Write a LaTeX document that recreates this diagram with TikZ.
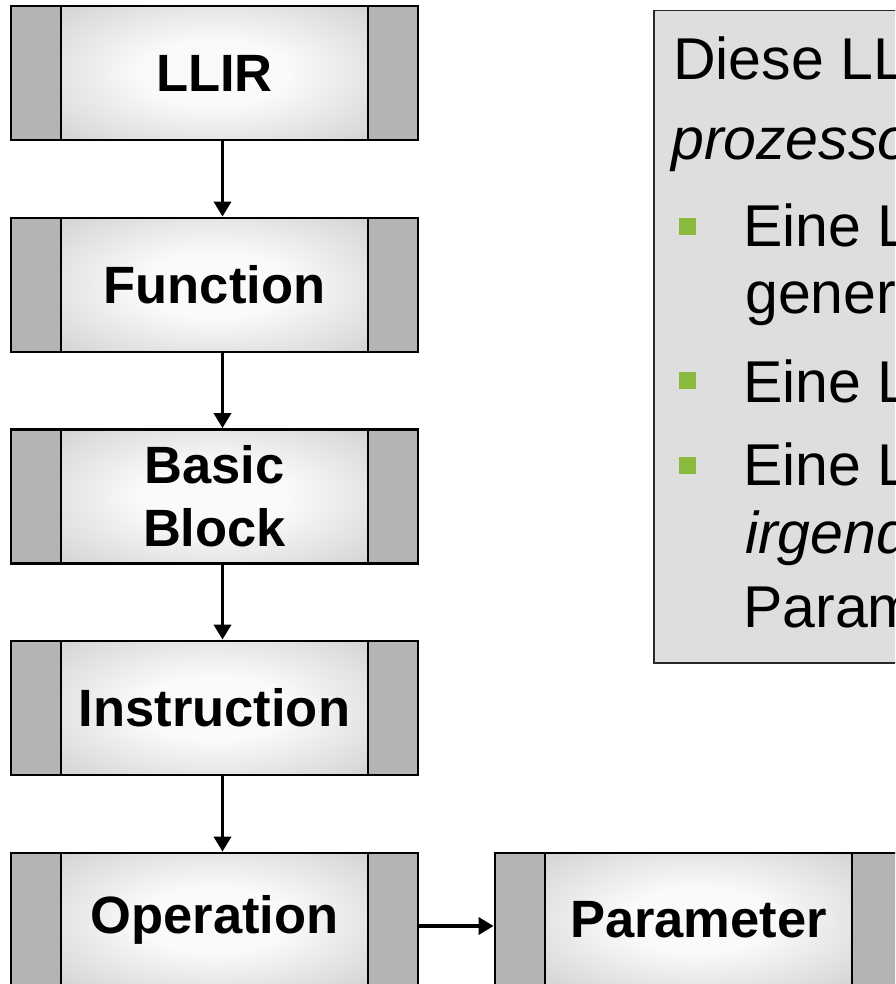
\documentclass[tikz,border=0pt]{standalone}
\usepackage{fontspec}
\setmainfont{Liberation Sans}
\usetikzlibrary{arrows.meta}
\definecolor{sidegray}{RGB}{180,180,180}
\definecolor{midgray}{RGB}{214,214,214}
\definecolor{centerwhite}{RGB}{250,250,250}
\definecolor{notegray}{RGB}{222,222,222}
\definecolor{notedraw}{RGB}{40,40,40}
\definecolor{bulletgreen}{RGB}{137,186,61}
\pgfdeclareradialshading{boxshade}{\pgfpoint{0bp}{0bp}}{color(0bp)=(centerwhite); color(12bp)=(centerwhite); color(34bp)=(midgray); color(50bp)=(sidegray); color(72bp)=(sidegray)}
\tikzset{
  blk/.style={draw=black, line width=2.8pt, minimum width=407pt, minimum height=134pt,
    inner sep=0pt, align=center, font=\bfseries\fontsize{52.5}{63}\selectfont,
    path picture={
      \fill[sidegray] (path picture bounding box.south west) rectangle (path picture bounding box.north east);
      \shade[shading=boxshade] ([xshift=50pt]path picture bounding box.south west) rectangle ([xshift=-50pt]path picture bounding box.north east);
      \draw[line width=2.8pt] ([xshift=50pt]path picture bounding box.south west) -- ([xshift=50pt]path picture bounding box.north west);
      \draw[line width=2.8pt] ([xshift=-50pt]path picture bounding box.south east) -- ([xshift=-50pt]path picture bounding box.north east);
    }},
  arr/.style={line width=3.5pt, -{Triangle[width=17pt,length=15pt]}},
  txt/.style={anchor=base west, inner sep=0pt, font=\fontsize{59}{70}\selectfont},
  bulletsq/.style={fill=bulletgreen, inner sep=0pt, minimum size=17pt},
  notebox/.style={draw=notedraw, line width=1.5pt, fill=notegray, anchor=north west,
    minimum width=400pt, minimum height=652pt, inner sep=0pt}
}
\begin{document}
\begin{tikzpicture}[x=1pt,y=-1pt]
\useasboundingbox (0,0) rectangle (895,984);
\clip (0,0) rectangle (895,984);
\fill[white] (0,0) rectangle (895,984);

% note box
\node[notebox] (note) at (653,10) {};
\node[txt] (t1) at (673,80) {Diese LL};
\node[txt] (t2) at (671,160) {\itshape prozesso};
\node[bulletsq] (b1) at (687.5,226.5) {};
\node[txt] (t3) at (743,247) {Eine L};
\node[txt] (t4) at (745,313) {gener};
\node[bulletsq] (b2) at (687.5,380.5) {};
\node[txt] (t5) at (743,402) {Eine L};
\node[bulletsq] (b3) at (687.5,465.5) {};
\node[txt] (t6) at (743,485) {Eine L};
\node[txt] (t7) at (745,553) {\itshape irgend};
\node[txt] (t8) at (743,627) {Param};

% blocks
\node[blk] (llir) at (214.5,73) {LLIR};
\node[blk] (func) at (214.5,285) {Function};
\node[blk] (bb) at (214.5,496.5) {Basic\\Block};
\node[blk] (instr) at (214.5,708) {Instruction};
\node[blk] (op) at (214.5,920) {Operation};
\node[blk] (param) at (698.5,920) {Parameter};

% connectors
\draw[arr] ([xshift=8pt]llir.south) -- ([xshift=8pt]func.north);
\draw[arr] ([xshift=8pt]func.south) -- ([xshift=8pt]bb.north);
\draw[arr] ([xshift=8pt]bb.south) -- ([xshift=8pt]instr.north);
\draw[arr] ([xshift=8pt]instr.south) -- ([xshift=8pt]op.north);
\draw[arr] ([yshift=-6pt]op.east) -- ([yshift=-6pt]param.west);
\end{tikzpicture}
\end{document}
